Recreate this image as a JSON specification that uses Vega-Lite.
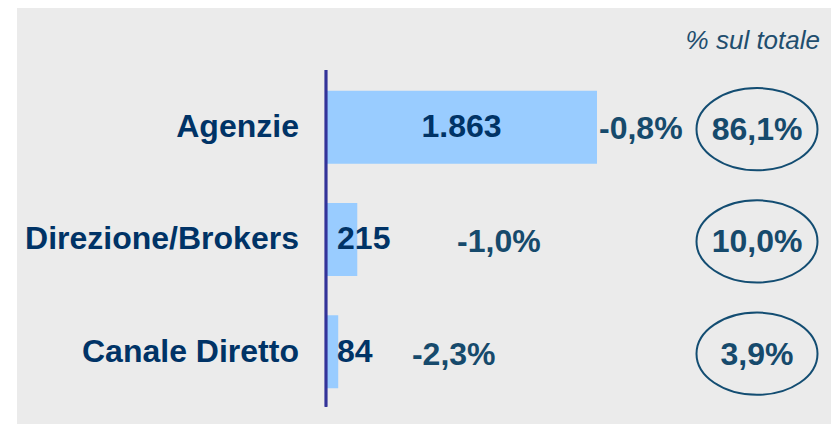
{
  "$schema": "https://vega.github.io/schema/vega-lite/v6.json",
  "autosize": "none",
  "width": 814,
  "height": 416,
  "padding": {"left": 17, "top": 8, "right": 0, "bottom": 3},
  "background": "white",
  "config": {
    "view": {"fill": "#ebebeb", "stroke": null},
    "locale": {"number": {"decimal": ",", "thousands": ".", "grouping": [3], "currency": ["€", ""], "minus": "-", "percent": "%"}},
    "text": {"font": "Liberation Sans", "fontWeight": "bold", "fontSize": 32, "baseline": "middle"}
  },
  "data": {"values": [
    {"canale": "Agenzie", "row": 1, "valore": 1863, "var": -0.008, "quota": 0.861},
    {"canale": "Direzione/Brokers", "row": 2, "valore": 215, "var": -0.010, "quota": 0.100},
    {"canale": "Canale Diretto", "row": 3, "valore": 84, "var": -0.023, "quota": 0.039}
  ]},
  "layer": [
    {
      "mark": {"type": "bar", "orient": "horizontal", "height": 73, "color": "#99ccff"},
      "encoding": {
        "x": {"field": "valore", "type": "quantitative", "scale": {"domain": [-2124.2, 3471.7], "nice": false, "zero": false}, "axis": null},
        "y": {"field": "row", "type": "quantitative", "scale": {"domain": [-0.0174, 3.6], "nice": false, "zero": false, "reverse": true}, "axis": null}
      }
    },
    {
      "mark": {"type": "rule", "color": "#333399", "strokeWidth": 2.5},
      "encoding": {
        "x": {"datum": 0, "type": "quantitative"},
        "y": {"datum": 0.49, "type": "quantitative"},
        "y2": {"datum": 3.49}
      }
    },
    {
      "mark": {"type": "text", "align": "right", "color": "#003366"},
      "encoding": {
        "x": {"datum": -186, "type": "quantitative"},
        "y": {"field": "row", "type": "quantitative"},
        "text": {"field": "canale"}
      }
    },
    {
      "transform": [{"filter": "datum.row == 1"}, {"calculate": "datum.valore / 2", "as": "mid"}],
      "mark": {"type": "text", "align": "center", "color": "#003366"},
      "encoding": {
        "x": {"field": "mid", "type": "quantitative"},
        "y": {"field": "row", "type": "quantitative"},
        "text": {"field": "valore", "type": "quantitative", "format": ",d"}
      }
    },
    {
      "transform": [{"filter": "datum.row > 1"}],
      "mark": {"type": "text", "align": "left", "color": "#003366"},
      "encoding": {
        "x": {"datum": 76, "type": "quantitative"},
        "y": {"field": "row", "type": "quantitative"},
        "text": {"field": "valore", "type": "quantitative", "format": ",d"}
      }
    },
    {
      "transform": [{"filter": "datum.row == 1"}],
      "mark": {"type": "text", "align": "left", "color": "#164a6c", "dy": 2},
      "encoding": {
        "x": {"datum": 1877, "type": "quantitative"},
        "y": {"field": "row", "type": "quantitative"},
        "text": {"field": "var", "type": "quantitative", "format": ".1%"}
      }
    },
    {
      "transform": [{"filter": "datum.row == 2"}],
      "mark": {"type": "text", "align": "left", "color": "#164a6c", "dy": 3},
      "encoding": {
        "x": {"datum": 901, "type": "quantitative"},
        "y": {"field": "row", "type": "quantitative"},
        "text": {"field": "var", "type": "quantitative", "format": ".1%"}
      }
    },
    {
      "transform": [{"filter": "datum.row == 3"}],
      "mark": {"type": "text", "align": "left", "color": "#164a6c", "dy": 3},
      "encoding": {
        "x": {"datum": 591, "type": "quantitative"},
        "y": {"field": "row", "type": "quantitative"},
        "text": {"field": "var", "type": "quantitative", "format": ".1%"}
      }
    },
    {
      "mark": {"type": "point", "shape": "M -1 0 A 1 0.68 0 1 1 1 0 A 1 0.68 0 1 1 -1 0 Z", "size": 14641, "filled": false, "stroke": "#134d72", "strokeWidth": 2, "opacity": 1, "yOffset": 2},
      "encoding": {
        "x": {"datum": 2963, "type": "quantitative"},
        "y": {"field": "row", "type": "quantitative"}
      }
    },
    {
      "mark": {"type": "text", "align": "center", "color": "#164a6c", "dy": 3},
      "encoding": {
        "x": {"datum": 2963, "type": "quantitative"},
        "y": {"field": "row", "type": "quantitative"},
        "text": {"field": "quota", "type": "quantitative", "format": ".1%"}
      }
    },
    {
      "data": {"values": [{"testo": "% sul totale"}]},
      "mark": {"type": "text", "align": "right", "color": "#1f4e6e", "fontStyle": "italic", "fontWeight": "normal", "fontSize": 26},
      "encoding": {
        "x": {"datum": 3396, "type": "quantitative"},
        "y": {"datum": 0.235, "type": "quantitative"},
        "text": {"field": "testo"}
      }
    }
  ]
}
